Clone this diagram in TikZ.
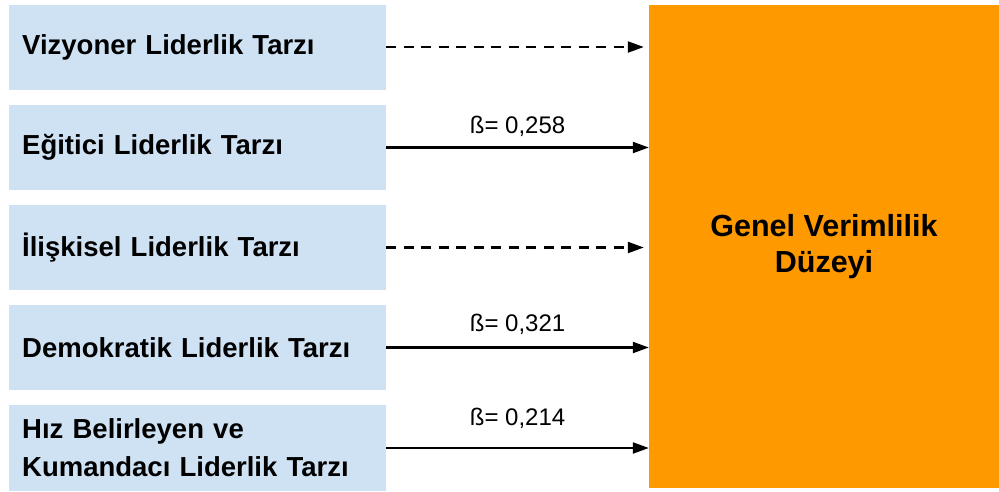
\documentclass[tikz,border=0pt]{standalone}
\usepackage{fontspec}
\setmainfont{Liberation Sans}
\usetikzlibrary{arrows.meta}
\definecolor{boxblue}{HTML}{CFE2F3}
\definecolor{orng}{HTML}{FF9900}
\begin{document}
\begin{tikzpicture}[x=1pt,y=-1pt,
 src/.style={fill=boxblue, draw=none, anchor=west, minimum height=85pt, text width=351pt, inner xsep=13pt, inner ysep=0pt, align=left, font=\bfseries\fontsize{27.5}{38}\selectfont},
 tgt/.style={fill=orng, draw=none, minimum width=350pt, minimum height=483pt, align=center, inner sep=0pt, font=\bfseries\fontsize{30.5}{35.5}\selectfont},
 conn/.style={line width=2.2pt, -{Triangle[length=16pt,width=11pt]}},
 dconn/.style={conn, dash pattern=on 10pt off 7.5pt},
 coef/.style={font=\fontsize{24}{28}\selectfont, inner sep=0pt, anchor=base}
]
\useasboundingbox (0,0) rectangle (999,491);
\node[src] (v) at (9,47) {Vizyoner Liderlik Tarzı};
\node[src] (e) at (9,147.5) {Eğitici Liderlik Tarzı};
\node[src] (i) at (9,247.5) {İlişkisel Liderlik Tarzı};
\node[src] (d) at (9,347.5) {Demokratik Liderlik Tarzı};
\node[src, minimum height=86pt] (h) at (9,448) {Hız Belirleyen ve\\Kumandacı Liderlik Tarzı};
\node[tgt] (g) at (824,246.5) {Genel Verimlilik\\Düzeyi};
\draw[dconn] (v.east) -- ([xshift=-5pt]v.east -| g.west);
\draw[conn] (e.east) -- (e.east -| g.west) node[coef, midway, yshift=14pt] {ß= 0,258};
\draw[dconn] (i.east) -- ([xshift=-5pt]i.east -| g.west);
\draw[conn] (d.east) -- (d.east -| g.west) node[coef, midway, yshift=16pt] {ß= 0,321};
\draw[conn] (h.east) -- (h.east -| g.west) node[coef, midway, yshift=23pt] {ß= 0,214};
\end{tikzpicture}
\end{document}
